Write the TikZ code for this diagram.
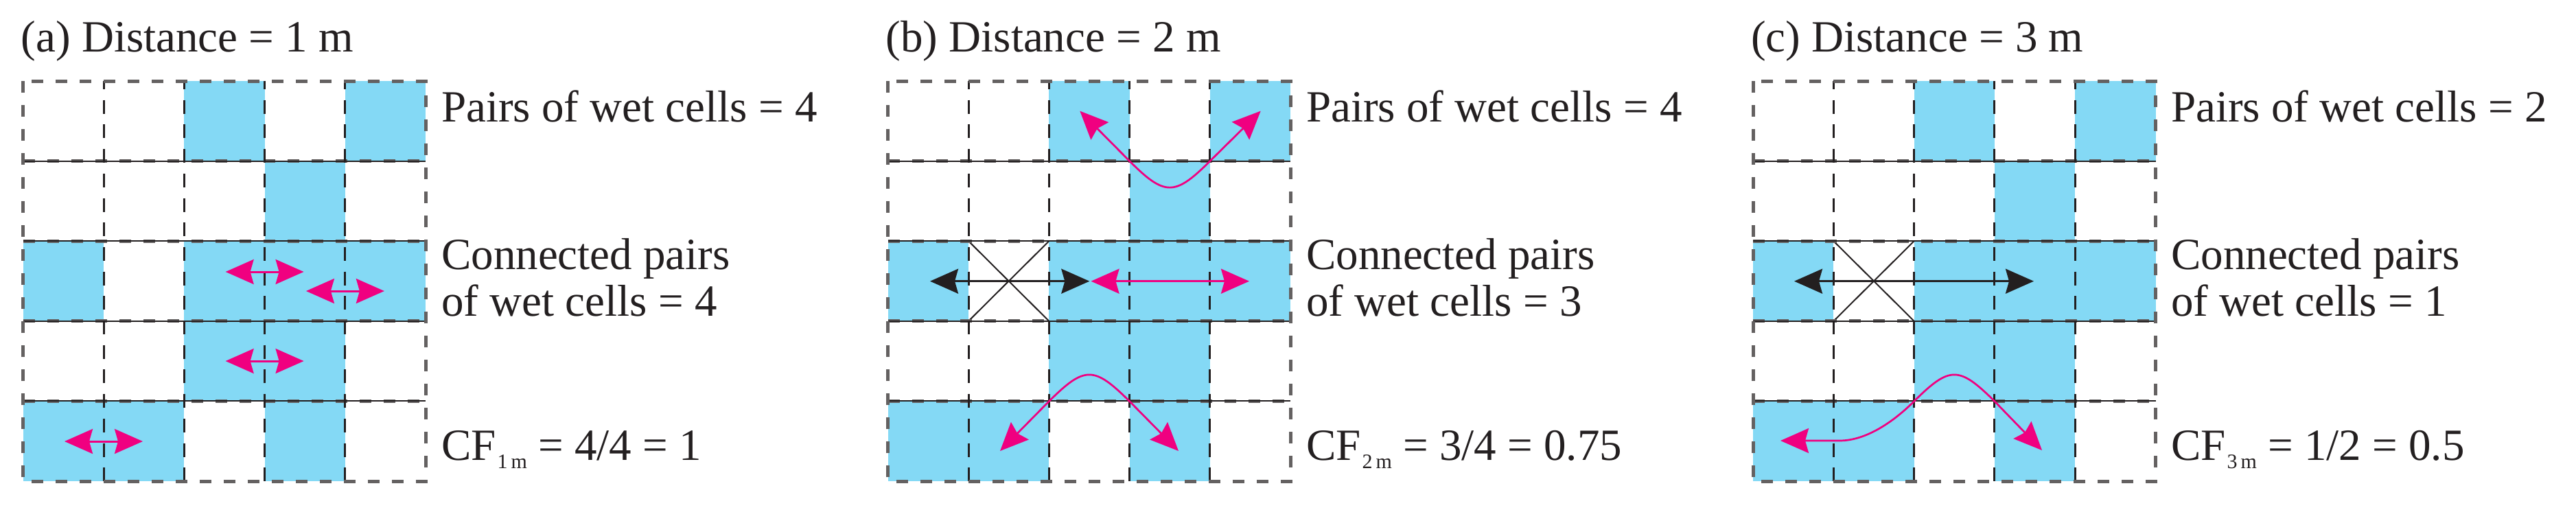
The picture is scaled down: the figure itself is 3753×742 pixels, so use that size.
\documentclass[tikz,border=0pt]{standalone}
\usepackage{fontspec}
\setmainfont{Liberation Serif}
\usetikzlibrary{arrows.meta}
\definecolor{wet}{RGB}{132,217,245}
\definecolor{pk}{RGB}{240,0,128}
\definecolor{ink}{RGB}{35,31,32}
\definecolor{gr}{RGB}{100,97,97}
\tikzset{
  lbl/.style={anchor=base west, inner sep=0pt, text=ink, font=\fontsize{65}{68}\selectfont},
  bigtip/.tip={Stealth[length=41pt,width=36pt,inset=5pt]},
  pkarrow/.style={draw=pk, line width=3pt, {bigtip[fill=pk]}-{bigtip[fill=pk]}},
  bkarrow/.style={draw=ink, line width=3pt, {bigtip[fill=ink]}-{bigtip[fill=ink]}},
  curvearrow/.style={draw=pk, line width=2.7pt, {bigtip[fill=pk]}-{bigtip[fill=pk]}},
  xline/.style={draw=ink, line width=2pt},
  outerdash/.style={draw=gr, line width=5pt, dash pattern=on 17pt off 18pt},
  innerv/.style={draw=ink, line width=3pt, dash pattern=on 20pt off 15.7pt, dash phase=8pt},
  innerh/.style={draw=ink, line width=2pt},
}
\newcommand\wetfill[1]{%
  \begin{scope}[shift={(#1,118)}]
    \foreach \c/\r in {2/0,4/0,3/1,0/2,2/2,3/2,4/2,2/3,3/3,0/4,1/4,3/4}
      \fill[wet] (\c*117.3,\r*116.6) rectangle ++(117.3,116.6);
  \end{scope}}
\newcommand\gridlines[1]{%
  \begin{scope}[shift={(#1,118)}]
    \foreach \r in {1,2,3,4} {
      \draw[outerdash] (0,\r*116.6) -- (586.5,\r*116.6);
      \draw[innerh] (0,\r*116.6) -- (586.5,\r*116.6);
    }
    \foreach \c in {1,2,3,4}
      \draw[innerv] (\c*117.3,0) -- (\c*117.3,583);
    \draw[outerdash] (0,0) rectangle (586.5,583);
  \end{scope}}
\begin{document}
\begin{tikzpicture}[x=1pt,y=-1pt]
\useasboundingbox (0,0) rectangle (3753,742);
% ---------------- fills
\wetfill{33.7}
\wetfill{1293.7}
\wetfill{2554}
% ---------------- crossed cells
\draw[xline] (1411,351.2) -- (1528.3,467.8);
\draw[xline] (1528.3,351.2) -- (1411,467.8);
\draw[xline] (2671.3,351.2) -- (2788.6,467.8);
\draw[xline] (2788.6,351.2) -- (2671.3,467.8);
% ---------------- grids
\gridlines{33.7}
\gridlines{1293.7}
\gridlines{2554}
% ---------------- panel (a) arrows
\coordinate (a1l) at (328.6,396);   \coordinate (a1r) at (442.6,396);
\coordinate (a2l) at (445.9,424);   \coordinate (a2r) at (559.9,424);
\coordinate (a3l) at (328.6,526);   \coordinate (a3r) at (442.6,526);
\coordinate (a4l) at (94,643);      \coordinate (a4r) at (208,643);
\draw[pkarrow] (a1l) -- (a1r);
\draw[pkarrow] (a2l) -- (a2r);
\draw[pkarrow] (a3l) -- (a3r);
\draw[pkarrow] (a4l) -- (a4r);
% ---------------- panel (b) arrows
\coordinate (b1l) at (1573.3,161.7); \coordinate (b1m) at (1645.6,234.6);
\coordinate (b1n) at (1762.9,234.6); \coordinate (b1r) at (1836.7,161.7);
\draw[curvearrow] (b1l) -- (b1m) .. controls (1697,286) and (1711.5,286) .. (b1n) -- (b1r);
\coordinate (b2l) at (1355,409.7);   \coordinate (b2m) at (1587.3,409.7);
\coordinate (b2n) at (1589.5,409.7); \coordinate (b2r) at (1820,409.7);
\draw[bkarrow] (b2l) -- (b2m);
\draw[pkarrow] (b2n) -- (b2r);
\coordinate (b3l) at (1457,657);     \coordinate (b3m) at (1528.3,584.6);
\coordinate (b3n) at (1645.6,584.6); \coordinate (b3r) at (1717,657);
\draw[curvearrow] (b3l) -- (b3m) .. controls (1580.3,533) and (1593.6,533) .. (b3n) -- (b3r);
% ---------------- panel (c) arrows
\coordinate (c2l) at (2614,409.7);   \coordinate (c2r) at (2963,409.7);
\draw[bkarrow] (c2l) -- (c2r);
\coordinate (c3l) at (2594,642);     \coordinate (c3k) at (2680,642);
\coordinate (c3m) at (2788.6,584.6); \coordinate (c3n) at (2905.9,584.6);
\coordinate (c3r) at (2975,656);
\draw[curvearrow] (c3l) -- (c3k) .. controls (2720,642) and (2760.6,612.6) .. (c3m)
   .. controls (2840.6,533) and (2853.9,533) .. (c3n) -- (c3r);
% ---------------- texts
\node[lbl] (ta) at (30.5,75) {(a) Distance = 1 m};
\node[lbl] (tb) at (1290.5,75) {(b) Distance = 2 m};
\node[lbl] (tc) at (2551,75) {(c) Distance = 3 m};
\foreach \ox/\p/\c/\cf in {643/4/4/{\raisebox{-12pt}{\fontsize{30}{30}\selectfont 1\,m} = 4/4 = 1},
                          1903/4/3/{\raisebox{-12pt}{\fontsize{30}{30}\selectfont 2\,m} = 3/4 = 0.75},
                          3163/2/1/{\raisebox{-12pt}{\fontsize{30}{30}\selectfont 3\,m} = 1/2 = 0.5}} {
  \node[lbl] at (\ox,177) {Pairs of wet cells = \p};
  \node[lbl] at (\ox,392) {Connected pairs};
  \node[lbl] at (\ox,460) {of wet cells = \c};
  \node[lbl] at (\ox,670) {CF\kern2pt\cf};
}
\end{tikzpicture}
\end{document}
